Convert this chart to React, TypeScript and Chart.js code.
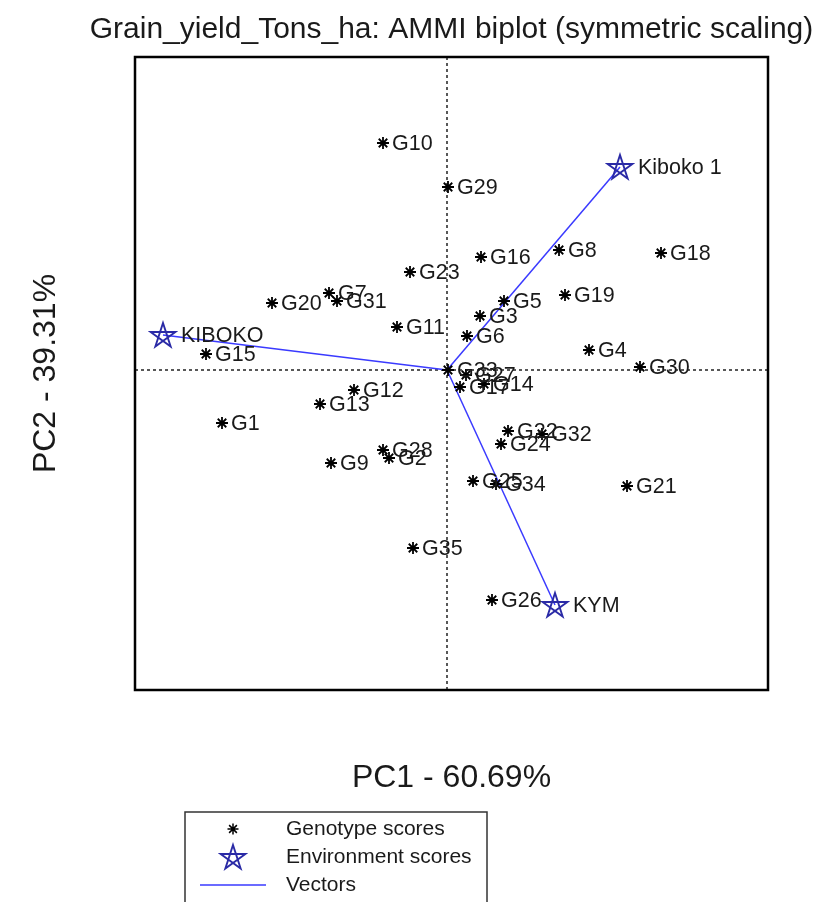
import React, { useEffect, useRef } from "react";
import { Chart, registerables } from "chart.js";

Chart.register(...registerables);

// Genotype scores on the first two interaction principal components
const genotypeNames = [
  "G1", "G2", "G3", "G4", "G5", "G6", "G7", "G8", "G9", "G10",
  "G11", "G12", "G13", "G14", "G15", "G16", "G17", "G18", "G19", "G20",
  "G21", "G22", "G23", "G24", "G25", "G26", "G27", "G28", "G29", "G30",
  "G31", "G32", "G33", "G34", "G35",
];
const genotypePC1 = [
  -2.25, -0.58, 0.33, 1.42, 0.57, 0.2, -1.18, 1.12, -1.16, -0.64,
  -0.5, -0.93, -1.27, 0.37, -2.41, 0.34, 0.13, 2.14, 1.18, -1.75,
  1.8, 0.61, -0.37, 0.54, 0.26, 0.45, 0.19, -0.64, 0.01, 1.93,
  -1.1, 0.95, 0.01, 0.49, -0.34,
];
const genotypePC2 = [
  -0.53, -0.88, 0.54, 0.2, 0.69, 0.34, 0.77, 1.2, -0.93, 2.27,
  0.43, -0.2, -0.34, -0.14, 0.16, 1.13, -0.17, 1.17, 0.75, 0.67,
  -1.16, -0.61, 0.98, -0.74, -1.11, -2.3, -0.05, -0.8, 1.83, 0.03,
  0.69, -0.64, 0.0, -1.14, -1.78,
];

// Environment scores
const environmentNames = ["KIBOKO", "Kiboko 1", "KYM"];
const environmentPC1 = [-2.84, 1.73, 1.08];
const environmentPC2 = [0.35, 2.03, -2.35];

const titleText = "Grain_yield_Tons_ha: AMMI biplot (symmetric scaling)";
const xAxisTitle = "PC1 - 60.69%";
const yAxisTitle = "PC2 - 39.31%";
const legendLabels = ["Genotype scores", "Environment scores", "Vectors"];

const xRange = [-3.12, 3.21];
const yRange = [-3.2, 3.13];

const FONT = "'Liberation Sans', Arial, Helvetica, sans-serif";
const ENV_COLOR = "#2a2aa6";
const VECTOR_COLOR = "#3a3aff";

// Pentagram {5/2} marker used for environments
function makeStarMarker(radius: number): HTMLCanvasElement {
  const size = Math.ceil(radius * 2 + 4);
  const c = document.createElement("canvas");
  c.width = size;
  c.height = size;
  const ctx = c.getContext("2d")!;
  const cx = size / 2;
  const cy = size / 2 + 1;
  const pts: [number, number][] = [];
  for (let i = 0; i < 5; i++) {
    const a = -Math.PI / 2 + (i * 2 * Math.PI) / 5;
    pts.push([cx + radius * Math.cos(a), cy + radius * Math.sin(a)]);
  }
  ctx.strokeStyle = ENV_COLOR;
  ctx.lineWidth = 1.9;
  ctx.lineJoin = "miter";
  ctx.beginPath();
  const order = [0, 2, 4, 1, 3];
  order.forEach((k, idx) => {
    const [px, py] = pts[k];
    if (idx === 0) ctx.moveTo(px, py);
    else ctx.lineTo(px, py);
  });
  ctx.closePath();
  ctx.stroke();
  return c;
}

function drawAsterisk(ctx: CanvasRenderingContext2D, x: number, y: number, r: number) {
  ctx.beginPath();
  ctx.moveTo(x - r, y);
  ctx.lineTo(x + r, y);
  ctx.moveTo(x, y - r);
  ctx.lineTo(x, y + r);
  const d = r * 0.7071;
  ctx.moveTo(x - d, y - d);
  ctx.lineTo(x + d, y + d);
  ctx.moveTo(x - d, y + d);
  ctx.lineTo(x + d, y - d);
  ctx.stroke();
}

export default function App() {
  const canvasRef = useRef<HTMLCanvasElement | null>(null);

  useEffect(() => {
    const canvas = canvasRef.current;
    if (!canvas) return;
    const starMarker = makeStarMarker(13);

    const genotypePoints = genotypeNames.map((_, i) => ({ x: genotypePC1[i], y: genotypePC2[i] }));
    const environmentPoints = environmentNames.map((_, i) => ({ x: environmentPC1[i], y: environmentPC2[i] }));

    const vectorSets = environmentNames.map((name, i) => ({
      label: "Vector " + name,
      data: [
        { x: 0, y: 0 },
        { x: environmentPC1[i], y: environmentPC2[i] },
      ],
      showLine: true,
      borderColor: VECTOR_COLOR,
      borderWidth: 1.5,
      pointRadius: 0,
      order: 3,
    }));

    const biplotDecor = {
      id: "biplotDecor",
      beforeDatasetsDraw(chart: any) {
        const { ctx, chartArea, scales } = chart;
        const x0 = scales.x.getPixelForValue(0);
        const y0 = scales.y.getPixelForValue(0);
        ctx.save();
        ctx.strokeStyle = "#222";
        ctx.lineWidth = 1.5;
        ctx.setLineDash([3, 3]);
        ctx.beginPath();
        ctx.moveTo(x0, chartArea.top);
        ctx.lineTo(x0, chartArea.bottom);
        ctx.moveTo(chartArea.left, y0);
        ctx.lineTo(chartArea.right, y0);
        ctx.stroke();
        ctx.restore();
      },
      afterDatasetsDraw(chart: any) {
        const { ctx, chartArea, scales } = chart;
        ctx.save();
        ctx.font = `21.5px ${FONT}`;
        ctx.fillStyle = "#1a1a1a";
        ctx.textBaseline = "middle";
        ctx.textAlign = "left";
        genotypeNames.forEach((name, i) => {
          const px = scales.x.getPixelForValue(genotypePC1[i]);
          const py = scales.y.getPixelForValue(genotypePC2[i]);
          ctx.fillText(name, px + 9, py + 1);
        });
        environmentNames.forEach((name, i) => {
          const px = scales.x.getPixelForValue(environmentPC1[i]);
          const py = scales.y.getPixelForValue(environmentPC2[i]);
          ctx.fillText(name, px + 18, py + 1);
        });

        // Plot frame
        ctx.strokeStyle = "#000";
        ctx.lineWidth = 2.5;
        ctx.setLineDash([]);
        ctx.strokeRect(chartArea.left, chartArea.top, chartArea.right - chartArea.left, chartArea.bottom - chartArea.top);
        ctx.restore();
      },
      afterDraw(chart: any) {
        const { ctx, chartArea } = chart;
        const midX = (chartArea.left + chartArea.right) / 2;
        const midY = (chartArea.top + chartArea.bottom) / 2;
        ctx.save();
        ctx.fillStyle = "#1a1a1a";
        ctx.textAlign = "center";
        ctx.textBaseline = "middle";

        ctx.font = `30px ${FONT}`;
        ctx.fillText(titleText, midX, 30);

        ctx.font = `32px ${FONT}`;
        ctx.fillText(xAxisTitle, midX, chartArea.bottom + 88);

        ctx.save();
        ctx.translate(46, midY);
        ctx.rotate(-Math.PI / 2);
        ctx.fillText(yAxisTitle, 0, 0);
        ctx.restore();

        // Legend box
        const lx = 185;
        const ly = 812;
        const lw = 302;
        const lh = 100;
        ctx.strokeStyle = "#333";
        ctx.lineWidth = 1.5;
        ctx.strokeRect(lx, ly, lw, lh);

        const rowY = [829, 857, 885];
        const symX = 233;
        ctx.strokeStyle = "#000";
        ctx.lineWidth = 1.5;
        drawAsterisk(ctx, symX, rowY[0], 5.5);
        ctx.drawImage(starMarker, symX - starMarker.width / 2, rowY[1] - starMarker.height / 2);
        ctx.strokeStyle = VECTOR_COLOR;
        ctx.lineWidth = 1.5;
        ctx.beginPath();
        ctx.moveTo(200, rowY[2]);
        ctx.lineTo(266, rowY[2]);
        ctx.stroke();

        ctx.font = `21px ${FONT}`;
        ctx.textAlign = "left";
        ctx.fillStyle = "#1a1a1a";
        legendLabels.forEach((t, i) => ctx.fillText(t, 286, rowY[i]));
        ctx.restore();
      },
    };

    const chart = new Chart(canvas, {
      type: "scatter",
      data: {
        datasets: [
          {
            label: legendLabels[0],
            data: genotypePoints,
            pointStyle: "star",
            pointRadius: 6,
            borderColor: "#000",
            backgroundColor: "#000",
            borderWidth: 1.8,
            order: 1,
          },
          {
            label: legendLabels[1],
            data: environmentPoints,
            pointStyle: starMarker,
            pointRadius: 13,
            borderColor: ENV_COLOR,
            order: 0,
          },
          ...vectorSets,
        ],
      } as any,
      options: {
        responsive: false,
        animation: false,
        events: [],
        layout: { padding: { left: 135, top: 57, right: 56, bottom: 212 } },
        scales: {
          x: { type: "linear", display: false, min: xRange[0], max: xRange[1] },
          y: { type: "linear", display: false, min: yRange[0], max: yRange[1] },
        },
        plugins: {
          legend: { display: false },
          title: { display: false },
          tooltip: { enabled: false },
        },
      },
      plugins: [biplotDecor],
    });

    return () => chart.destroy();
  }, []);

  return (
    <div style={{ position: "fixed", left: 0, top: 0, width: 824, height: 902, background: "#fff" }}>
      <canvas ref={canvasRef} width={824} height={902} style={{ display: "block", width: 824, height: 902 }} />
    </div>
  );
}
